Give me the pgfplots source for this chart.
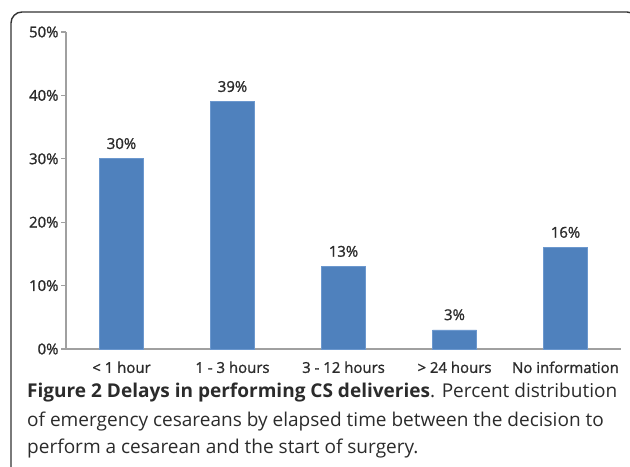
\documentclass[border=0pt]{standalone}
\usepackage{fontspec}
\setmainfont{Open Sans}
\newfontfamily\chartfont[FakeBold=1.2]{Open Sans}
\usepackage{pgfplots}
\pgfplotsset{compat=1.18}
\definecolor{barblue}{HTML}{4F81BD}
\definecolor{baredge}{HTML}{6C98CE}
\definecolor{axisgray}{HTML}{A0A0A0}
\definecolor{txt}{HTML}{2B2B2B}
\begin{document}
\begin{tikzpicture}[x=1bp,y=1bp]
\useasboundingbox (0,0) rectangle (630,467);
\clip (0,0) rectangle (630,467);
% outer frame (cut at the right and bottom edges)
\draw[line width=1.4bp, black!80, rounded corners=11bp] (11,455) rectangle (638,-20);

\begin{axis}[
    at={(66bp,118bp)}, anchor=south west,
    scale only axis, width=555bp, height=317bp,
    ybar, bar width=44bp,
    xmin=0, xmax=5, ymin=0, ymax=50,
    axis x line*=bottom, axis y line*=left,
    axis line style={axisgray, line width=1.2bp},
    every tick/.style={axisgray, line width=1.2bp},
    tick align=outside,
    major tick length=5bp, minor tick length=5bp,
    xtick={0.5,1.5,2.5,3.5,4.5},
    xticklabels={< 1 hour, 1 - 3 hours, 3 - 12 hours, > 24 hours, No information},
    x tick style={draw=none},
    minor xtick={0,1,2,3,4,5},
    minor x tick style={axisgray, line width=1.2bp},
    ytick={0,10,20,30,40,50},
    yticklabel={\pgfmathprintnumber{\tick}\%},
    /pgf/number format/assume math mode=true,
    ticklabel style={font=\chartfont\fontsize{15}{17}\selectfont, text=txt},
    xticklabel style={yshift=-4bp},
    yticklabel style={xshift=1bp},
    nodes near coords={\pgfmathprintnumber{\pgfplotspointmeta}\%},
    nodes near coords style={font=\chartfont\fontsize{15}{17}\selectfont, text=txt, anchor=south, yshift=6bp},
    clip=false,
]
\addplot[fill=barblue, draw=baredge, line width=0.8bp] coordinates {
    (0.5,30) (1.5,39) (2.5,13) (3.5,3) (4.5,16)
};
\end{axis}

\begin{scope}[every node/.style={anchor=base west, inner sep=0pt, text=txt, font=\fontsize{19.1}{22}\selectfont}]
\node at (27,69) {\textbf{Figure 2 Delays in performing CS deliveries}. Percent distribution};
\node at (27,40.5) {of emergency cesareans by elapsed time between the decision to};
\node at (27,13.5) {perform a cesarean and the start of surgery.};
\end{scope}
\end{tikzpicture}
\end{document}
